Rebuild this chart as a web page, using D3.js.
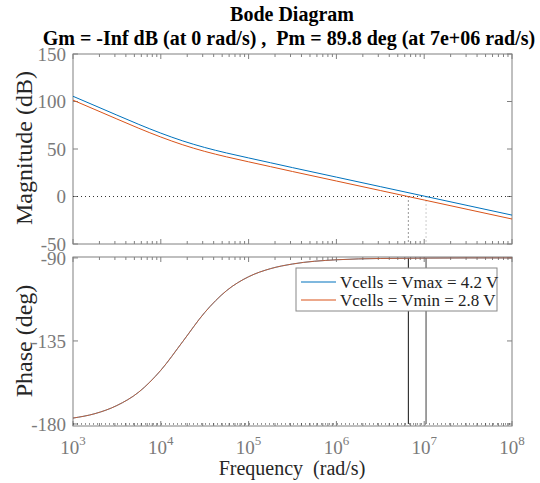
<!DOCTYPE html>
<html>
<head>
<meta charset="utf-8">
<script src="https://cdn.jsdelivr.net/npm/d3@7"></script>
<style>
  body { margin: 0; background: #fff; }
  text { font-family: "Liberation Serif", "Times New Roman", serif; white-space: pre; }
</style>
</head>
<body>
<svg id="chart"></svg>
<script>
// values
const freq = [1e3, 1.78e3, 3.16e3, 5.62e3, 1e4, 1.78e4, 3.16e4, 5.62e4, 1e5, 1.78e5, 3.16e5, 1e6, 3.16e6, 1e7, 3.16e7, 1e8];
const magVmax = [105.5, 95.6, 85.7, 75.9, 66.7, 58.5, 51.6, 45.8, 40.6, 35.5, 30.4, 20.4, 10.4, 0.4, -9.6, -19.6];
const magVmin = [101.4, 91.5, 81.6, 71.8, 62.6, 54.4, 47.5, 41.7, 36.5, 31.4, 26.3, 16.3, 6.3, -3.7, -13.7, -23.7];
const phase = [-176.8, -174.4, -170.0, -162.7, -150.9, -135.3, -119.6, -107.7, -100.2, -95.8, -93.3, -91.0, -90.3, -90.1, -90.0, -90.0];
const seriesNames = ["Vcells = Vmax = 4.2 V", "Vcells = Vmin = 2.8 V"];
const seriesColors = ["#0072bd", "#d95319"];
const crossFreq = [6.6e6, 1.05e7];   // 0 dB crossings (Vmin, Vmax)
const magTicks = [-50, 0, 50, 100, 150];
const phaseTicks = [-180, -135, -90];
const decades = [3, 4, 5, 6, 7, 8];

const width = 540, height = 483;
const svg = d3.select("#chart").attr("width", width).attr("height", height);

const left = 73, right = 512;
const x = d3.scaleLog().domain([1e3, 1e8]).range([left, right]);
const yMag = d3.scaleLinear().domain([-50, 150]).range([244, 54]);
const yPh = d3.scaleLinear().domain([-181.1, -89.5]).range([426, 257]);

const axisColor = "#808080";
const labelColor = "#7a7a7a";

// minor tick positions
const minor = [];
for (let d = 3; d < 8; d++) for (let m = 2; m <= 9; m++) minor.push(m * Math.pow(10, d));

function frame(y, yticks) {
  const [y0, y1] = y.range();
  const g = svg.append("g");
  const tk = (xv, len) => {
    g.append("line").attr("x1", x(xv)).attr("x2", x(xv)).attr("y1", y0).attr("y2", y0 - len)
      .attr("stroke", axisColor);
    g.append("line").attr("x1", x(xv)).attr("x2", x(xv)).attr("y1", y1).attr("y2", y1 + len)
      .attr("stroke", axisColor);
  };
  decades.forEach(d => tk(Math.pow(10, d), 5));
  minor.forEach(m => tk(m, 3));
  yticks.forEach(t => {
    g.append("line").attr("x1", left).attr("x2", left + 5).attr("y1", y(t)).attr("y2", y(t)).attr("stroke", axisColor);
    g.append("line").attr("x1", right).attr("x2", right - 5).attr("y1", y(t)).attr("y2", y(t)).attr("stroke", axisColor);
    g.append("text").attr("x", 66).attr("y", y(t)).attr("dy", "0.35em")
      .attr("text-anchor", "end").attr("font-size", 19).attr("fill", labelColor).text(t);
  });
  g.append("rect").attr("x", left).attr("y", y1).attr("width", right - left).attr("height", y0 - y1)
    .attr("fill", "none").attr("stroke", axisColor);
  return g;
}

// magnitude panel
frame(yMag, magTicks);
svg.append("line").attr("x1", left).attr("x2", right).attr("y1", yMag(0)).attr("y2", yMag(0))
  .attr("stroke", "#333").attr("stroke-dasharray", "1,3");
crossFreq.forEach((f, i) => {
  svg.append("line").attr("x1", x(f)).attr("x2", x(f)).attr("y1", yMag(0)).attr("y2", yMag(-50))
    .attr("stroke", i === 0 ? "#333" : "#999").attr("stroke-dasharray", "1,3");
});
const magLine = d3.line().x((d, i) => x(freq[i])).y(d => yMag(d)).curve(d3.curveMonotoneX);
[magVmax, magVmin].forEach((s, i) => {
  svg.append("path").datum(s).attr("d", magLine).attr("fill", "none")
    .attr("stroke", seriesColors[i]).attr("stroke-width", 1);
});

// phase panel
frame(yPh, phaseTicks);
svg.append("line").attr("x1", left).attr("x2", right).attr("y1", yPh(-180)).attr("y2", yPh(-180))
  .attr("stroke", "#333").attr("stroke-dasharray", "1,3");
crossFreq.forEach((f, i) => {
  svg.append("line").attr("x1", x(f)).attr("x2", x(f)).attr("y1", yPh(-180)).attr("y2", yPh(-90))
    .attr("stroke", i === 0 ? "#111" : "#888").attr("stroke-width", i === 0 ? 1 : 1.6);
});
const phLine = d3.line().x((d, i) => x(freq[i])).y(d => yPh(d)).curve(d3.curveMonotoneX);
seriesColors.forEach(c => {
  svg.append("path").datum(phase).attr("d", phLine).attr("fill", "none")
    .attr("stroke", c).attr("stroke-width", 1).attr("stroke-opacity", 0.8);
});

// legend
const lg = svg.append("g").attr("transform", "translate(296,268)");
lg.append("rect").attr("width", 201).attr("height", 43).attr("fill", "#fff").attr("stroke", "#888");
seriesNames.forEach((n, i) => {
  const ly = 14 + i * 18;
  lg.append("line").attr("x1", 5).attr("x2", 40).attr("y1", ly).attr("y2", ly)
    .attr("stroke", seriesColors[i]).attr("stroke-width", 1.2);
  lg.append("text").attr("x", 44).attr("y", ly).attr("dy", "0.35em").attr("font-size", 17)
    .attr("fill", "#222").text(n);
});

// x tick labels
decades.forEach(d => {
  const t = svg.append("text").attr("x", x(Math.pow(10, d))).attr("y", 454)
    .attr("text-anchor", "middle").attr("font-size", 19).attr("fill", labelColor);
  t.append("tspan").text("10");
  t.append("tspan").attr("dy", -9).attr("font-size", 13).text(d);
});

// titles and labels
svg.append("text").attr("x", 292).attr("y", 21).attr("text-anchor", "middle")
  .attr("font-size", 20).attr("font-weight", "bold").text("Bode Diagram");
svg.append("text").attr("x", 289).attr("y", 45).attr("text-anchor", "middle")
  .attr("font-size", 20).attr("font-weight", "bold")
  .text("Gm = -Inf dB (at 0 rad/s) ,  Pm = 89.8 deg (at 7e+06 rad/s)");
svg.append("text").attr("x", 292).attr("y", 475).attr("text-anchor", "middle")
  .attr("font-size", 20).attr("fill", "#262626").text("Frequency  (rad/s)");
svg.append("text").attr("transform", "translate(32,148) rotate(-90)").attr("text-anchor", "middle")
  .attr("font-size", 24).attr("fill", "#262626").text("Magnitude (dB)");
svg.append("text").attr("transform", "translate(32,341) rotate(-90)").attr("text-anchor", "middle")
  .attr("font-size", 24).attr("fill", "#262626").text("Phase (deg)");
</script>
</body>
</html>
